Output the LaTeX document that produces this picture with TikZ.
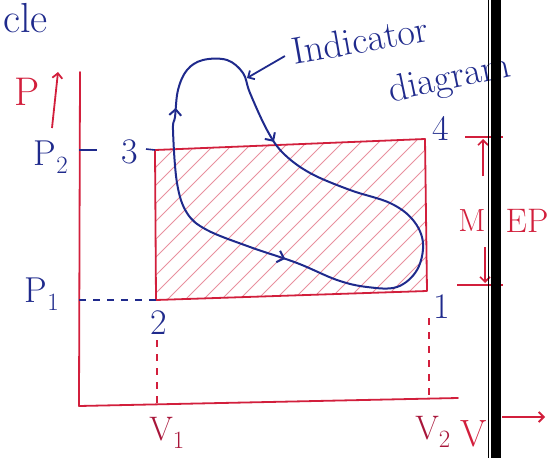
\documentclass[tikz,border=0pt]{standalone}
\usepackage{fontspec}
\usepackage{tikz}
\usetikzlibrary{arrows.meta,decorations.markings,positioning}
\definecolor{inkblue}{HTML}{1F2A8C}
\definecolor{inkred}{HTML}{D21F3C}
\definecolor{inkdark}{HTML}{A8163A}
\definecolor{hatchred}{HTML}{E8909E}

\begin{document}
\begin{tikzpicture}[x=1pt, y=-1pt,
  axisline/.style={inkred, line width=1.8pt, line cap=round, line join=round},
  guide/.style={line width=1.4pt, dash pattern=on 7pt off 7pt},
  bluelbl/.style={text=inkblue, inner sep=0pt, font=\fontsize{36}{38}\selectfont},
  redlbl/.style={text=inkred, inner sep=0pt, font=\fontsize{32}{34}\selectfont},
  barb/.style={-{Straight Barb[length=5pt,width=10pt]}},
  loopmarks/.style={postaction={decorate}, decoration={markings,
    mark=at position 0.012 with {\arrow{Straight Barb[length=6pt,width=12pt]}},
    mark=at position 0.25 with {\arrow{Straight Barb[length=6pt,width=12pt]}},
    mark=at position 0.725 with {\arrowreversed{Straight Barb[length=6pt,width=12pt]}}}}]
 \useasboundingbox (0,0) rectangle (557,458);
 % corners of the cycle
 \coordinate (c3) at (155,150);
 \coordinate (c4) at (425,139);
 \coordinate (c1) at (427,291);
 \coordinate (c2) at (156,300);
 % axes
 \coordinate (ytop) at (80,72);
 \coordinate (org) at (79,406);
 \coordinate (xend) at (458,398);
 % hatched work area
 \begin{scope}
  \clip (c3) -- (c4) -- (c1) -- (c2) -- cycle;
  \foreach \k in {0,...,25} \draw[hatchred, line width=0.8pt] (\k*18, 305) -- ++(175,-175);
 \end{scope}
 \draw[axisline] (c3) -- (c4) -- (c1) -- (c2) -- cycle;
 \draw[axisline] (ytop) -- (org) -- (xend);
 % indicator loop
 \draw[inkblue, line width=2pt, loopmarks] plot[smooth cycle, tension=0.6] coordinates {
  (173,130) (175,117) (178,90) (187,70) (203,60) (227,60) (243,73) (250,93)
  (267,130) (283,153) (310,173) (350,190) (390,203) (413,220) (423,243)
  (417,270) (397,287) (367,287) (337,280) (297,263) (250,247) (207,230)
  (187,213) (177,183)};
 % labels
 \node[bluelbl, anchor=west, font=\fontsize{42}{44}\selectfont] (cle) at (3,18) {cle};
 \node[redlbl, font=\fontsize{40}{42}\selectfont] (plab) at (27,92) {P};
 \coordinate (pa) at (52,128);
 \coordinate (pb) at (58,72);
 \draw[inkred, line width=1.8pt, barb] (pa) -- (pb);
 \node[bluelbl] (p2) at (51,157) {P$_2$};
 \node[bluelbl] (p1) at (42,294) {P$_1$};
 \node[bluelbl] (n3) at (130,152) {3};
 \node[bluelbl] (n4) at (441,128) {4};
 \node[bluelbl] (n1) at (442,307) {1};
 \node[bluelbl] (n2) at (159,323) {2};
 \node[bluelbl, text=inkdark, font=\fontsize{34}{36}\selectfont] (v1) at (167,433) {V$_1$};
 \node[bluelbl, text=inkdark, font=\fontsize{34}{36}\selectfont] (v2) at (433,432) {V$_2$};
 \node[redlbl, font=\fontsize{38}{40}\selectfont] (vlab) at (474,434) {V};
 \coordinate (p2tick) at (97,150);
 \coordinate (n3tick) at (146,149);
 \draw[inkblue, line width=1.6pt] (p2tick -| org) -- (p2tick);
 \draw[inkblue, line width=1.6pt] (n3tick) -- (c3);
 % guide lines
 \draw[inkblue, guide] (c2 -| org) -- (c2);
 \coordinate (v1top) at (157,340);
 \coordinate (v2top) at (429,318);
 \draw[inkred, guide] (v1top) -- (v1top |- org);
 \draw[inkred, guide] (v2top) -- (v2top |- xend);
 % indicator diagram note
 \node[bluelbl, rotate=10, font=\fontsize{38}{40}\selectfont] (ind) at (360,40) {Indicator};
 \node[bluelbl, rotate=12, font=\fontsize{38}{40}\selectfont] (dia) at (450,80) {diagram};
 \coordinate (looptop) at (247,78);
 \draw[inkblue, line width=1.8pt, barb, shorten <=8pt] (ind.west) -- (looptop);
 % mean effective pressure
 \node[redlbl] (m) at (472,221) {M};
 \node[redlbl, font=\fontsize{34}{36}\selectfont] (ep) at (527,221) {EP};
 \coordinate (mtop) at (483,176);
 \coordinate (mbot) at (485,247);
 \draw[inkred, line width=1.6pt, barb] (mtop) -- (483,139);
 \draw[inkred, line width=1.6pt] (465,137) -- (503,137);
 \draw[inkred, line width=1.6pt, barb] (mbot) -- (485,283);
 \draw[inkred, line width=1.6pt] (457,285) -- (503,285);
 % frame edge
 \fill[black] (491,0) rectangle (501,458);
 \draw[black, line width=1.5pt] (488.5,0) -- (488.5,458);
 \coordinate (va) at (502,417);
 \coordinate (vb) at (545,417);
 \draw[inkred, line width=1.8pt, barb] (va) -- (vb);
\end{tikzpicture}
\end{document}
